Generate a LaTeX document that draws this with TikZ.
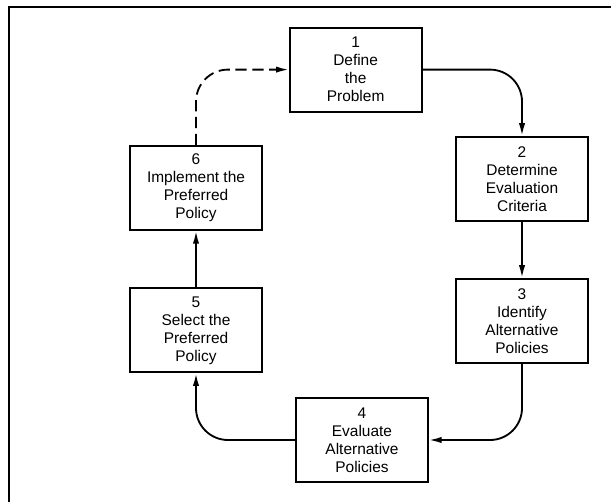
\documentclass[tikz,border=0pt]{standalone}
\usepackage{fontspec}
\setmainfont{Liberation Sans}
\usetikzlibrary{arrows.meta}
\tikzset{
    stagebox/.style={rectangle, draw=black, line width=1.3pt, minimum width=3.3cm, minimum height=2.1cm, align=center, font=\fontsize{11}{12.8}\selectfont},
    flow/.style={-{Latex[length=9pt, width=4.5pt]}, line width=1.3pt, rounded corners=0.8cm},
    flowback/.style={flow, dash pattern=on 8pt off 4pt}
}
\begin{document}
\begin{tikzpicture}
    \useasboundingbox (0,0) rectangle (15.275,12.55);
    % Frame (top and left edge only)
    \draw[line width=1.8pt] (0.225,0) -- (0.225,12.375) -- (15.275,12.375);

    % Policy steps
    \node[stagebox] (s1) at (8.89, 10.81) {1\\Define\\the\\Problem};
    \node[stagebox] (s2) at (13.05, 8.08) {2\\Determine\\Evaluation\\Criteria};
    \node[stagebox] (s3) at (13.05, 4.53) {3\\Identify\\Alternative\\Policies};
    \node[stagebox] (s4) at (9.05, 1.55) {4\\Evaluate\\Alternative\\Policies};
    \node[stagebox] (s5) at (4.9, 4.29) {5\\Select the\\Preferred\\Policy};
    \node[stagebox] (s6) at (4.9, 7.85) {6\\Implement the\\Preferred\\Policy};

    % Cycle
    \draw[flow] (s1.east) -| (s2.north);
    \draw[flow] (s2.south) -- (s3.north);
    \draw[flow] (s3.south) |- (s4.east);
    \draw[flow] (s4.west) -| (s5.south);
    \draw[flow] (s5.north) -- (s6.south);
    \draw[flowback] (s6.north) |- (s1.west);
\end{tikzpicture}
\end{document}
